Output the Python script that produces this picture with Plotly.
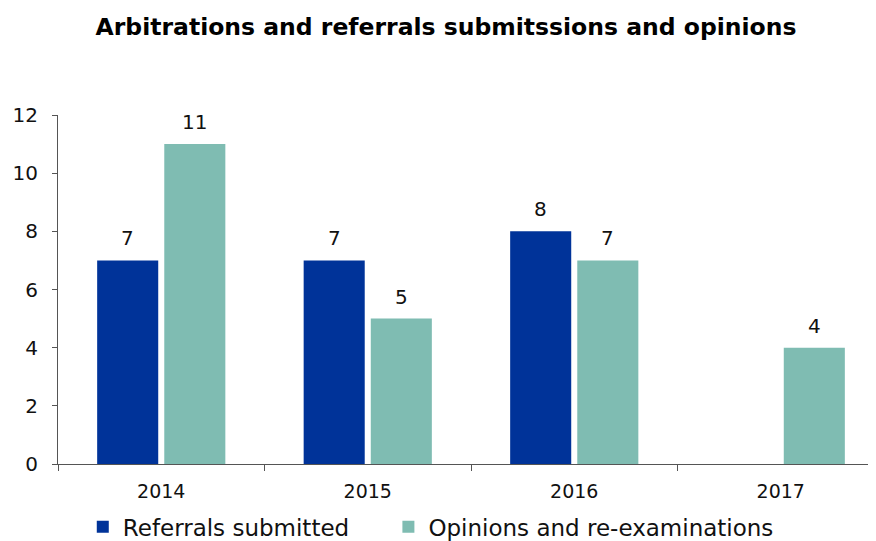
import plotly.graph_objects as go

years = ["2014", "2015", "2016", "2017"]
referrals = [7, 7, 8, None]
opinions = [11, 5, 7, 4]
series_names = ["Referrals submitted", "Opinions and re-examinations"]
title_text = "Arbitrations and referrals submitssions and opinions"

FONT = "DejaVu Sans"
BAR_COLORS = ["#003399", "#7FBCB2"]
LEGENDS = ["legend", "legend2"]
fig = go.Figure()
for vals, name, col, lg in zip([referrals, opinions], series_names, BAR_COLORS, LEGENDS):
    fig.add_trace(go.Bar(
        x=years, y=vals, name=name, legend=lg,
        marker=dict(color=col, line=dict(width=0)),
    ))

# value labels above bars (category index on x; bar slot offset in a group: +-33.5 px)
for vals, shift in zip([referrals, opinions], [-33.5, 33.5]):
    for idx, v in enumerate(vals):
        if v is None:
            continue
        fig.add_annotation(x=idx, y=v, text=str(v), showarrow=False,
                           xref="x", yref="y", xshift=shift, yshift=8,
                           yanchor="bottom", xanchor="center",
                           font=dict(size=20, color="#111", family=FONT))

legend_common = dict(orientation="h", yref="container", y=0.041, yanchor="middle",
                     xanchor="left",
                     font=dict(size=23, family=FONT, color="#111"),
                     itemwidth=30, tracegroupgap=0, bgcolor="rgba(0,0,0,0)")
fig.update_layout(
    width=876, height=541,
    margin=dict(l=50, r=0, t=107, b=85, autoexpand=False),
    paper_bgcolor="white", plot_bgcolor="white",
    font=dict(family=FONT, color="#111", size=18),
    title=dict(text="<b>" + title_text + "</b>", x=0.5, xanchor="center",
               y=0.965, yanchor="middle", font=dict(size=23.5, family=FONT, color="#000")),
    barmode="group", bargap=0.35, bargroupgap=0.09,
    showlegend=True,
    legend=dict(x=0.030, **legend_common),
    legend2=dict(x=0.400, **legend_common),
)
fig.update_yaxes(range=[0, 12], dtick=2, showgrid=False, zeroline=False,
                 showline=True, linecolor="#555", linewidth=1,
                 ticks="outside", ticklen=5, tickcolor="#555",
                 ticklabelstandoff=10,
                 tickfont=dict(size=20, family=FONT, color="#111"))
fig.update_xaxes(type="category", categoryorder="array", categoryarray=years,
                 range=[-0.5, len(years) - 0.5],
                 showgrid=False, showline=True, linecolor="#555", linewidth=1,
                 ticks="outside", ticklen=6, tickcolor="#555", tickson="boundaries",
                 ticklabelstandoff=10,
                 tickfont=dict(size=19, family=FONT, color="#111"))
fig.write_html("out.html")
